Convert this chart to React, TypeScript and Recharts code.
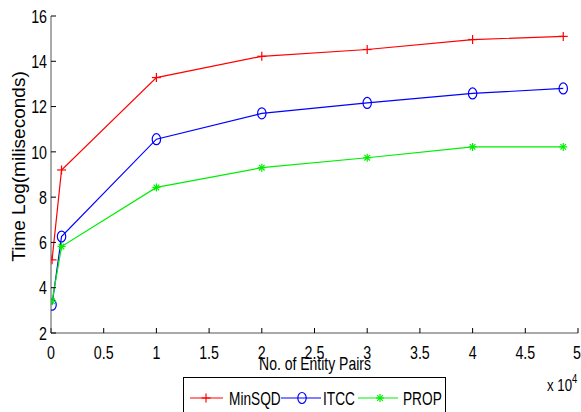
import { Line, LineChart, XAxis, YAxis } from 'recharts'

const pairs = [0.01, 0.1, 1, 2, 3, 4, 4.86]
const minSQD = [5.23, 9.2, 13.28, 14.22, 14.52, 14.96, 15.1]
const itcc = [3.25, 6.26, 10.56, 11.7, 12.16, 12.58, 12.8]
const prop = [3.4, 5.82, 8.43, 9.3, 9.74, 10.22, 10.22]
const seriesNames = ['MinSQD', 'ITCC', 'PROP']
const xTicks = [0, 0.5, 1, 1.5, 2, 2.5, 3, 3.5, 4, 4.5, 5]
const yTicks = [2, 4, 6, 8, 10, 12, 14, 16]

const data = pairs.map((x, i) => ({ x, minsqd: minSQD[i], itcc: itcc[i], prop: prop[i] }))

const font = "'Liberation Sans', Arial, sans-serif"

const RED = '#ff0000'
const BLUE = '#0000ff'
const GREEN = '#00ee00'

// condensed text, the reference uses a narrow face
function NText({
  x,
  y,
  size,
  sx = 0.78,
  anchor = 'start',
  dy,
  children
}: {
  x: number
  y: number
  size: number
  sx?: number
  anchor?: string
  dy?: string
  children: React.ReactNode
}) {
  return (
    <text
      transform={`translate(${x},${y}) scale(${sx},1)`}
      textAnchor={anchor}
      dy={dy}
      fontSize={size}
      fontFamily={font}
      fill="#000"
    >
      {children}
    </text>
  )
}

function Plus({ cx, cy, c }: { cx: number; cy: number; c: string }) {
  return (
    <g>
      <line x1={cx - 4.5} x2={cx + 4.5} y1={cy} y2={cy} stroke={c} strokeWidth={1.2} />
      <line x1={cx} x2={cx} y1={cy - 4.5} y2={cy + 4.5} stroke={c} strokeWidth={1.2} />
    </g>
  )
}

function Ring({ cx, cy, c }: { cx: number; cy: number; c: string }) {
  return <ellipse cx={cx} cy={cy} rx={4.2} ry={5.5} fill="none" stroke={c} strokeWidth={1.2} />
}

function Star({ cx, cy, c }: { cx: number; cy: number; c: string }) {
  const r = 4
  const d = 2.8
  return (
    <g stroke={c} strokeWidth={1.2}>
      <line x1={cx - r} x2={cx + r} y1={cy} y2={cy} />
      <line x1={cx} x2={cx} y1={cy - r} y2={cy + r} />
      <line x1={cx - d} x2={cx + d} y1={cy - d} y2={cy + d} />
      <line x1={cx - d} x2={cx + d} y1={cy + d} y2={cy - d} />
    </g>
  )
}

export default function App() {
  return (
    <div style={{ position: 'absolute', left: 0, top: 0, width: 581, height: 412, background: '#fff' }}>
      <LineChart
        width={581}
        height={412}
        data={data}
        margin={{ top: 16, right: 3, left: 0, bottom: 0 }}
      >
        <XAxis
          dataKey="x"
          type="number"
          domain={[0, 5]}
          ticks={xTicks}
          height={79}
          tickSize={-5}
          tickMargin={17}
          stroke="#555"
          tick={(p: any) => (
            <NText x={p.x} y={p.y} size={19} sx={0.75} anchor="middle" dy="0.71em">
              {String(p.payload.value)}
            </NText>
          )}
          tickLine={{ stroke: '#000' }}
          allowDataOverflow
        />
        <YAxis
          type="number"
          domain={[2, 16]}
          ticks={yTicks}
          width={51}
          tickSize={-5}
          tickMargin={9}
          stroke="#555"
          tick={(p: any) => (
            <NText x={p.x} y={p.y} size={19} sx={0.75} anchor="end" dy="0.355em">
              {String(p.payload.value)}
            </NText>
          )}
          tickLine={{ stroke: '#000' }}
          allowDataOverflow
        />
        <Line
          dataKey="minsqd"
          stroke={RED}
          strokeWidth={1.2}
          isAnimationActive={false}
          dot={(p: any) => <Plus key={'r' + p.index} cx={p.cx} cy={p.cy} c={RED} />}
        />
        <Line
          dataKey="itcc"
          stroke={BLUE}
          strokeWidth={1.2}
          isAnimationActive={false}
          dot={(p: any) => <Ring key={'b' + p.index} cx={p.cx} cy={p.cy} c={BLUE} />}
        />
        <Line
          dataKey="prop"
          stroke={GREEN}
          strokeWidth={1.2}
          isAnimationActive={false}
          dot={(p: any) => <Star key={'g' + p.index} cx={p.cx} cy={p.cy} c={GREEN} />}
        />
      </LineChart>
      <svg
        width={581}
        height={412}
        style={{ position: 'absolute', left: 0, top: 0, pointerEvents: 'none' }}
      >
        <text
          transform="translate(25,166.5) rotate(-90)"
          textAnchor="middle"
          fontSize={19}
          fontFamily={font}
          fill="#000"
        >
          Time Log(miliseconds)
        </text>
        <NText x={315} y={370} size={17.5} sx={0.8} anchor="middle">
          No. of Entity Pairs
        </NText>
        <NText x={547} y={391} size={17} sx={0.78}>
          x 10
          <tspan dy={-8} fontSize={12}>4</tspan>
        </NText>
        <rect x={183.5} y={377.5} width={262} height={50} fill="#fff" stroke="#000" strokeWidth={1} />
        <line x1={190} x2={223} y1={398} y2={398} stroke={RED} strokeWidth={1.2} />
        <Plus cx={206} cy={398} c={RED} />
        <NText x={229} y={405} size={19} sx={0.72}>{seriesNames[0]}</NText>
        <line x1={281} x2={321} y1={398} y2={398} stroke={BLUE} strokeWidth={1.2} />
        <Ring cx={302} cy={398} c={BLUE} />
        <NText x={323} y={405} size={19} sx={0.72}>{seriesNames[1]}</NText>
        <line x1={358} x2={398} y1={398} y2={398} stroke={GREEN} strokeWidth={1.2} />
        <Star cx={380} cy={398} c={GREEN} />
        <NText x={403} y={405} size={19} sx={0.72}>{seriesNames[2]}</NText>
      </svg>
    </div>
  )
}
